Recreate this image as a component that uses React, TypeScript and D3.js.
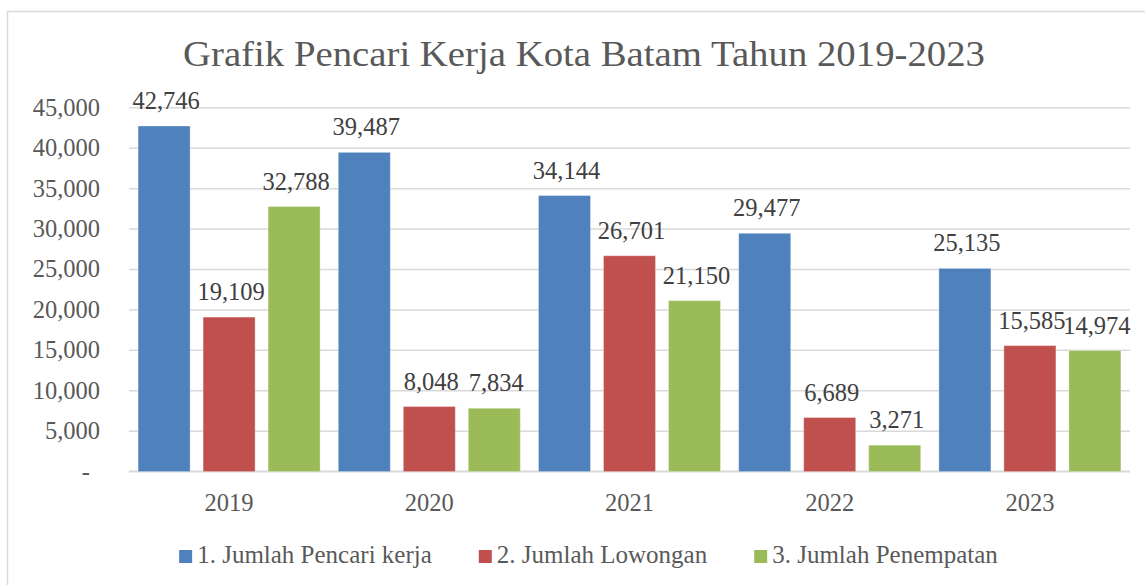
import React, { useEffect, useRef } from 'react';
import * as d3 from 'd3';

const years = ['2019', '2020', '2021', '2022', '2023'];
const seriesNames = ['1. Jumlah Pencari kerja', '2. Jumlah Lowongan', '3. Jumlah Penempatan'];
const pencariKerja = [42746, 39487, 34144, 29477, 25135];
const lowongan = [19109, 8048, 26701, 6689, 15585];
const penempatan = [32788, 7834, 21150, 3271, 14974];
const seriesColors = ['#4F81BD', '#C0504D', '#9BBB59'];
const yTicks = [0, 5000, 10000, 15000, 20000, 25000, 30000, 35000, 40000, 45000];
const titleText = 'Grafik Pencari Kerja Kota Batam Tahun 2019-2023';

const W = 1145;
const H = 585;
const FONT = '"Liberation Serif", "Times New Roman", serif';

const App: React.FC = () => {
  const svgRef = useRef<SVGSVGElement>(null);

  useEffect(() => {
    if (!svgRef.current) return;
    const svg = d3.select(svgRef.current);
    svg.selectAll('*').remove();

    const plot = { left: 129, right: 1130, top: 107.8, bottom: 471.6 };
    const allSeries = [pencariKerja, lowongan, penempatan];

    const x0 = d3.scaleBand<string>().domain(years).range([plot.left, plot.right]);
    const x1 = d3.scaleBand<number>()
      .domain([0, 1, 2])
      .range([0, x0.bandwidth()])
      .paddingInner(0.2)
      .paddingOuter(0.14);
    const y = d3.scaleLinear().domain([0, 45000]).range([plot.bottom, plot.top]);
    const fmt = d3.format(',');

    // chart frame
    svg.append('rect')
      .attr('x', 7.5).attr('y', 11.5)
      .attr('width', W + 20).attr('height', H + 20)
      .attr('fill', '#fff')
      .attr('stroke', '#D9D9D9')
      .attr('stroke-width', 1.5);

    // title
    svg.append('text')
      .attr('x', 584).attr('y', 66)
      .attr('text-anchor', 'middle')
      .attr('textLength', 802)
      .attr('lengthAdjust', 'spacingAndGlyphs')
      .style('font-family', FONT)
      .style('font-size', '35px')
      .style('fill', '#595959')
      .text(titleText);

    // gridlines
    svg.append('g').selectAll('line')
      .data(yTicks)
      .enter().append('line')
      .attr('x1', plot.left).attr('x2', plot.right)
      .attr('y1', d => y(d)).attr('y2', d => y(d))
      .attr('stroke', '#D9D9D9')
      .attr('stroke-width', d => (d === 0 ? 2 : 1.5));

    // y tick labels
    svg.append('g').selectAll('text')
      .data(yTicks)
      .enter().append('text')
      .attr('x', d => (d === 0 ? 90 : 100))
      .attr('y', d => y(d) + 8)
      .attr('text-anchor', 'end')
      .style('font-family', FONT)
      .style('font-size', '24.5px')
      .style('fill', '#595959')
      .text(d => (d === 0 ? '-' : fmt(d)));

    // bars and labels
    allSeries.forEach((vals, si) => {
      const g = svg.append('g');
      g.selectAll('rect')
        .data(vals)
        .enter().append('rect')
        .attr('x', (_, i) => (x0(years[i]) || 0) + (x1(si) || 0))
        .attr('y', d => y(d))
        .attr('width', x1.bandwidth())
        .attr('height', d => y(0) - y(d))
        .attr('fill', seriesColors[si])
        .attr('stroke', '#ffffff')
        .attr('stroke-opacity', 0.3)
        .attr('stroke-width', 1);
      g.selectAll('text')
        .data(vals)
        .enter().append('text')
        .attr('x', (_, i) => (x0(years[i]) || 0) + (x1(si) || 0) + x1.bandwidth() / 2 + 2)
        .attr('y', d => y(d) - 17)
        .attr('text-anchor', 'middle')
        .style('font-family', FONT)
        .style('font-size', '24.5px')
        .style('fill', '#404040')
        .text(d => fmt(d));
    });

    // category labels
    svg.append('g').selectAll('text')
      .data(years)
      .enter().append('text')
      .attr('x', d => (x0(d) || 0) + x0.bandwidth() / 2)
      .attr('y', plot.bottom + 39)
      .attr('text-anchor', 'middle')
      .style('font-family', FONT)
      .style('font-size', '24.5px')
      .style('fill', '#595959')
      .text(d => d);

    // legend
    const legend = svg.append('g');
    const items = seriesNames.map((name, i) => {
      const item = legend.append('g');
      item.append('rect')
        .attr('width', 13).attr('height', 13)
        .attr('y', 550)
        .attr('fill', seriesColors[i]);
      const t = item.append('text')
        .attr('x', 18).attr('y', 563)
        .style('font-family', FONT)
        .style('font-size', '25px')
        .style('fill', '#595959')
        .text(name);
      const w = (t.node() as SVGTextElement).getComputedTextLength();
      return { item, w: 18 + w };
    });
    const gap = 47;
    const total = d3.sum(items, d => d.w) + gap * (items.length - 1);
    let cx = 588.5 - total / 2;
    items.forEach(({ item, w }) => {
      item.attr('transform', `translate(${cx},0)`);
      cx += w + gap;
    });
  }, []);

  return (
    <svg
      ref={svgRef}
      width={W}
      height={H}
      style={{ position: 'absolute', left: 0, top: 0, display: 'block', background: '#fff' }}
    />
  );
};

export default App;
